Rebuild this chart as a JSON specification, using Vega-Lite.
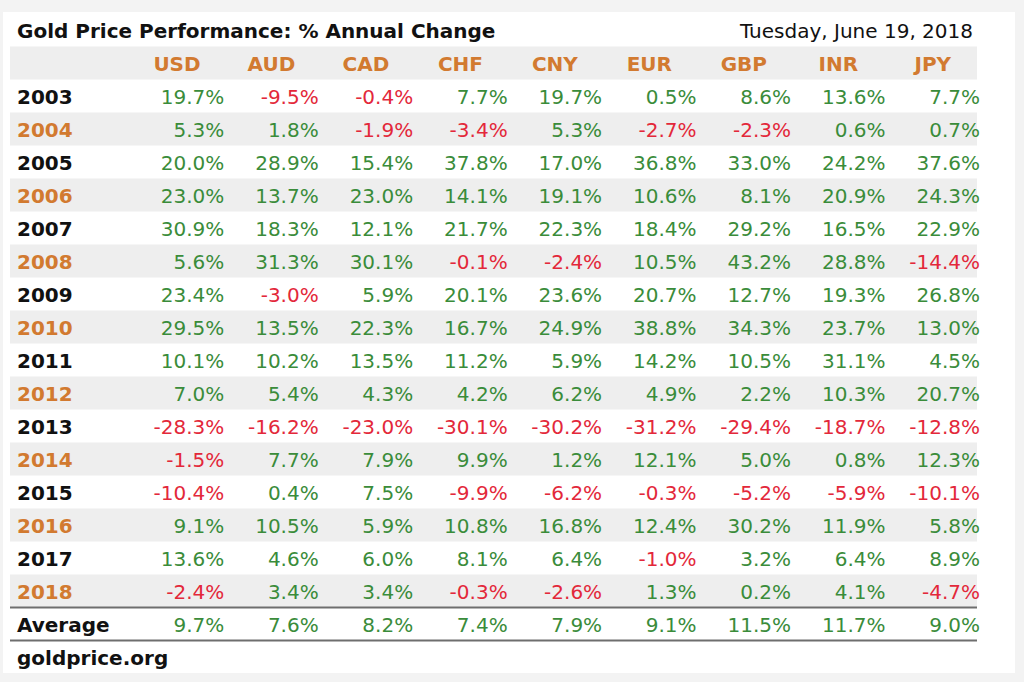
{
  "$schema": "https://vega.github.io/schema/vega-lite/v6.json",
  "autosize": {"type": "none"},
  "width": 1012,
  "height": 661,
  "padding": {"left": 3, "top": 12, "right": 9, "bottom": 9},
  "background": "#f3f3f3",
  "config": {
    "view": {"fill": "#ffffff", "stroke": null},
    "font": "DejaVu Sans",
    "locale": {"number": {"decimal": ".", "thousands": ",", "grouping": [3], "currency": ["$", ""], "minus": "-"}}
  },
  "datasets": {
    "table": [
      {"row": "2003", "USD": 0.197, "AUD": -0.095, "CAD": -0.004, "CHF": 0.077, "CNY": 0.197, "EUR": 0.005, "GBP": 0.086, "INR": 0.136, "JPY": 0.077},
      {"row": "2004", "USD": 0.053, "AUD": 0.018, "CAD": -0.019, "CHF": -0.034, "CNY": 0.053, "EUR": -0.027, "GBP": -0.023, "INR": 0.006, "JPY": 0.007},
      {"row": "2005", "USD": 0.200, "AUD": 0.289, "CAD": 0.154, "CHF": 0.378, "CNY": 0.170, "EUR": 0.368, "GBP": 0.330, "INR": 0.242, "JPY": 0.376},
      {"row": "2006", "USD": 0.230, "AUD": 0.137, "CAD": 0.230, "CHF": 0.141, "CNY": 0.191, "EUR": 0.106, "GBP": 0.081, "INR": 0.209, "JPY": 0.243},
      {"row": "2007", "USD": 0.309, "AUD": 0.183, "CAD": 0.121, "CHF": 0.217, "CNY": 0.223, "EUR": 0.184, "GBP": 0.292, "INR": 0.165, "JPY": 0.229},
      {"row": "2008", "USD": 0.056, "AUD": 0.313, "CAD": 0.301, "CHF": -0.001, "CNY": -0.024, "EUR": 0.105, "GBP": 0.432, "INR": 0.288, "JPY": -0.144},
      {"row": "2009", "USD": 0.234, "AUD": -0.030, "CAD": 0.059, "CHF": 0.201, "CNY": 0.236, "EUR": 0.207, "GBP": 0.127, "INR": 0.193, "JPY": 0.268},
      {"row": "2010", "USD": 0.295, "AUD": 0.135, "CAD": 0.223, "CHF": 0.167, "CNY": 0.249, "EUR": 0.388, "GBP": 0.343, "INR": 0.237, "JPY": 0.130},
      {"row": "2011", "USD": 0.101, "AUD": 0.102, "CAD": 0.135, "CHF": 0.112, "CNY": 0.059, "EUR": 0.142, "GBP": 0.105, "INR": 0.311, "JPY": 0.045},
      {"row": "2012", "USD": 0.070, "AUD": 0.054, "CAD": 0.043, "CHF": 0.042, "CNY": 0.062, "EUR": 0.049, "GBP": 0.022, "INR": 0.103, "JPY": 0.207},
      {"row": "2013", "USD": -0.283, "AUD": -0.162, "CAD": -0.230, "CHF": -0.301, "CNY": -0.302, "EUR": -0.312, "GBP": -0.294, "INR": -0.187, "JPY": -0.128},
      {"row": "2014", "USD": -0.015, "AUD": 0.077, "CAD": 0.079, "CHF": 0.099, "CNY": 0.012, "EUR": 0.121, "GBP": 0.050, "INR": 0.008, "JPY": 0.123},
      {"row": "2015", "USD": -0.104, "AUD": 0.004, "CAD": 0.075, "CHF": -0.099, "CNY": -0.062, "EUR": -0.003, "GBP": -0.052, "INR": -0.059, "JPY": -0.101},
      {"row": "2016", "USD": 0.091, "AUD": 0.105, "CAD": 0.059, "CHF": 0.108, "CNY": 0.168, "EUR": 0.124, "GBP": 0.302, "INR": 0.119, "JPY": 0.058},
      {"row": "2017", "USD": 0.136, "AUD": 0.046, "CAD": 0.060, "CHF": 0.081, "CNY": 0.064, "EUR": -0.010, "GBP": 0.032, "INR": 0.064, "JPY": 0.089},
      {"row": "2018", "USD": -0.024, "AUD": 0.034, "CAD": 0.034, "CHF": -0.003, "CNY": -0.026, "EUR": 0.013, "GBP": 0.002, "INR": 0.041, "JPY": -0.047},
      {"row": "Average", "USD": 0.097, "AUD": 0.076, "CAD": 0.082, "CHF": 0.074, "CNY": 0.079, "EUR": 0.091, "GBP": 0.115, "INR": 0.117, "JPY": 0.090}
    ],
    "stripes": [
      {"row": "header"}, {"row": "2004"}, {"row": "2006"}, {"row": "2008"}, {"row": "2010"},
      {"row": "2012"}, {"row": "2014"}, {"row": "2016"}, {"row": "2018"}
    ],
    "currencies": [
      {"cur": "USD"}, {"cur": "AUD"}, {"cur": "CAD"}, {"cur": "CHF"}, {"cur": "CNY"},
      {"cur": "EUR"}, {"cur": "GBP"}, {"cur": "INR"}, {"cur": "JPY"}
    ]
  },
  "layer": [
    {
      "data": {"name": "stripes"},
      "mark": {"type": "rect", "x": {"expr": "range('x')[0]"}, "x2": {"expr": "range('x')[1]"}, "color": "#eeeeee"},
      "encoding": {
        "y": {"field": "row", "type": "nominal", "axis": null,
          "scale": {"type": "band", "domain": ["title", "header", "2003", "2004", "2005", "2006", "2007", "2008", "2009", "2010", "2011", "2012", "2013", "2014", "2015", "2016", "2017", "2018", "Average", "footer"], "range": [1.5, 661.5], "paddingInner": 0, "paddingOuter": 0}}
      }
    },
    {
      "data": {"values": [{"row": "Average"}, {"row": "footer"}]},
      "mark": {"type": "rule", "x": {"expr": "range('x')[0]"}, "x2": {"expr": "range('x')[1]"}, "color": "#6e6e6e", "strokeWidth": 2},
      "encoding": {
        "y": {"field": "row", "type": "nominal", "axis": null, "bandPosition": 0}
      }
    },
    {
      "data": {"values": [{"t": "Gold Price Performance: % Annual Change"}]},
      "mark": {"type": "text", "x": {"expr": "range('x')[0]"}, "dx": 7, "dy": 2, "align": "left", "baseline": "middle", "fontWeight": "bold", "fontSize": 20, "color": "#111111"},
      "encoding": {
        "y": {"datum": "title", "type": "nominal", "axis": null},
        "text": {"field": "t"}
      }
    },
    {
      "data": {"values": [{"t": "Tuesday, June 19, 2018"}]},
      "mark": {"type": "text", "x": {"expr": "range('x')[1]"}, "dx": -4, "dy": 2, "align": "right", "baseline": "middle", "fontSize": 20, "color": "#111111"},
      "encoding": {
        "y": {"datum": "title", "type": "nominal", "axis": null},
        "text": {"field": "t"}
      }
    },
    {
      "data": {"values": [{"t": "goldprice.org"}]},
      "mark": {"type": "text", "x": {"expr": "range('x')[0]"}, "dx": 7, "dy": 2, "align": "left", "baseline": "middle", "fontWeight": "bold", "fontSize": 20, "color": "#111111"},
      "encoding": {
        "y": {"datum": "footer", "type": "nominal", "axis": null},
        "text": {"field": "t"}
      }
    },
    {
      "data": {"name": "currencies"},
      "mark": {"type": "text", "align": "center", "baseline": "middle", "dx": 3, "dy": 2, "fontWeight": "bold", "fontSize": 20, "color": "#d27a30"},
      "encoding": {
        "x": {"field": "cur", "type": "nominal", "axis": null, "bandPosition": 0.5,
          "scale": {"type": "band", "domain": ["USD", "AUD", "CAD", "CHF", "CNY", "EUR", "GBP", "INR", "JPY"], "range": [7, 974], "paddingInner": 0, "paddingOuter": 0.618, "align": 1}},
        "y": {"datum": "header", "type": "nominal", "axis": null},
        "text": {"field": "cur"}
      }
    },
    {
      "data": {"name": "table"},
      "mark": {"type": "text", "x": {"expr": "range('x')[0]"}, "dx": 7, "dy": 2, "align": "left", "baseline": "middle", "fontWeight": "bold", "fontSize": 20},
      "encoding": {
        "y": {"field": "row", "type": "nominal", "axis": null},
        "text": {"field": "row"},
        "color": {"condition": {"test": "toNumber(datum.row) % 2 == 0", "value": "#d27a30"}, "value": "#111111"}
      }
    },
    {
      "data": {"name": "table"},
      "transform": [{"fold": ["USD", "AUD", "CAD", "CHF", "CNY", "EUR", "GBP", "INR", "JPY"], "as": ["cur", "value"]}],
      "mark": {"type": "text", "align": "right", "baseline": "middle", "dx": 3, "dy": 2, "fontSize": 20},
      "encoding": {
        "x": {"field": "cur", "type": "nominal", "axis": null, "bandPosition": 1},
        "y": {"field": "row", "type": "nominal", "axis": null},
        "text": {"field": "value", "type": "quantitative", "format": ".1%"},
        "color": {"condition": {"test": "datum.value < 0", "value": "#e3283a"}, "value": "#3a8c3a"}
      }
    }
  ]
}
